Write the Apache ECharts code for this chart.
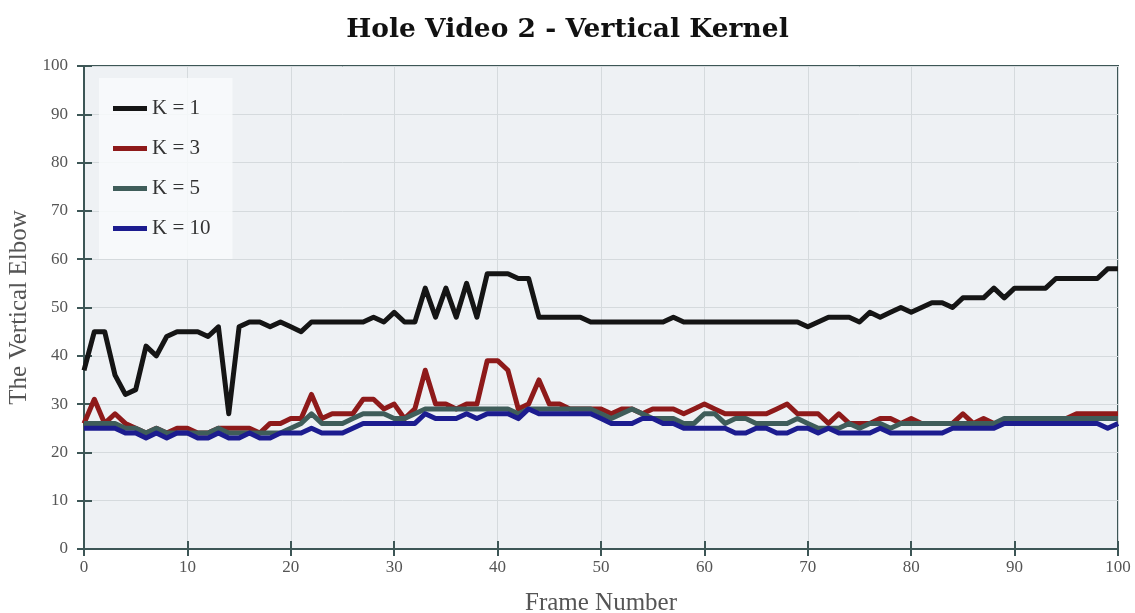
<!DOCTYPE html>
<html><head><meta charset="utf-8">
<script src="https://cdn.jsdelivr.net/npm/echarts@6/dist/echarts.min.js"></script>
<style>html,body{margin:0;padding:0;background:#fff}#c{width:1135px;height:613px}</style>
</head><body><div id="c"></div>
<script>
const frames = Array.from({length:101},(_,i)=>i);
const k1 = [37,45,45,36,32,33,42,40,44,45,
 45,45,44,46,28,46,47,47,46,47,
 46,45,47,47,47,47,47,47,48,47,
 49,47,47,54,48,54,48,55,48,57,
 57,57,56,56,48,48,48,48,48,47,
 47,47,47,47,47,47,47,48,47,47,
 47,47,47,47,47,47,47,47,47,47,
 46,47,48,48,48,47,49,48,49,50,
 49,50,51,51,50,52,52,52,54,52,
 54,54,54,54,56,56,56,56,56,58,58];
const k3 = [26,31,26,28,26,25,24,25,24,25,
 25,24,24,25,25,25,25,24,26,26,
 27,27,32,27,28,28,28,31,31,29,
 30,27,29,37,30,30,29,30,30,39,
 39,37,29,30,35,30,30,29,29,29,
 29,28,29,29,28,29,29,29,28,29,
 30,29,28,28,28,28,28,29,30,28,
 28,28,26,28,26,26,26,27,27,26,
 27,26,26,26,26,28,26,27,26,26,
 27,27,27,27,27,27,28,28,28,28,28];
const k5 = [26,26,26,26,25,25,24,25,24,24,
 24,24,24,25,24,24,24,24,24,24,
 25,26,28,26,26,26,27,28,28,28,
 27,27,28,29,29,29,29,29,29,29,
 29,29,28,29,29,29,29,29,29,29,
 28,27,28,29,28,27,27,27,26,26,
 28,28,26,27,27,26,26,26,26,27,
 26,25,25,25,26,25,26,26,25,26,
 26,26,26,26,26,26,26,26,26,27,
 27,27,27,27,27,27,27,27,27,27,27];
const k10 = [25,25,25,25,24,24,23,24,23,24,
 24,23,23,24,23,23,24,23,23,24,
 24,24,25,24,24,24,25,26,26,26,
 26,26,26,28,27,27,27,28,27,28,
 28,28,27,29,28,28,28,28,28,28,
 27,26,26,26,27,27,26,26,25,25,
 25,25,25,24,24,25,25,24,24,25,
 25,24,25,24,24,24,24,25,24,24,
 24,24,24,24,25,25,25,25,25,26,
 26,26,26,26,26,26,26,26,26,25,26];
const seriesNames = ['K = 1','K = 3','K = 5','K = 10'];
const seriesColors = ['#151515','#8e1a1a','#3f5d5a','#1c1c8f'];
const seriesData = [k1,k3,k5,k10];
const xTicks = [0,10,20,30,40,50,60,70,80,90,100];

const serif = '"Liberation Serif", "DejaVu Serif", serif';
const axisColor = '#3d5656';
const chart = echarts.init(document.getElementById('c'));
const baseX = {type:'value', min:0, max:100, interval:10};
const baseY = {type:'value', min:0, max:100, interval:10};
chart.setOption({
  animation:false,
  backgroundColor:'#ffffff',
  title:{text:'Hole Video 2 - Vertical Kernel', left:'center', top:12,
    textStyle:{fontFamily:'"DejaVu Serif", serif', fontWeight:'bold', fontSize:26.5, color:'#111'}},
  grid:{left:84, right:17, top:66, bottom:64, containLabel:false, outerBoundsMode:'none',
    show:true, backgroundColor:'#eef1f4', borderColor:axisColor, borderWidth:2},
  legend:{orient:'vertical', left:99, top:78, padding:[20,22,20,14], itemGap:19,
    backgroundColor:'rgba(248,250,251,0.85)', icon:'rect', itemWidth:34, itemHeight:5,
    textStyle:{fontFamily:serif, fontSize:21, color:'#333', lineHeight:21},
    data:seriesNames},
  xAxis:[
    Object.assign({}, baseX, {name:'Frame Number', nameLocation:'middle', nameGap:42,
      nameTextStyle:{fontFamily:serif, fontSize:25, color:'#555'},
      axisLine:{show:true, lineStyle:{color:axisColor, width:2}},
      axisTick:{show:true, length:7, lineStyle:{color:axisColor, width:2}},
      axisLabel:{fontFamily:serif, fontSize:17, color:'#555', margin:10,
        formatter:v=>xTicks.includes(v)?String(v):''},
      splitLine:{show:true, lineStyle:{color:'#d5dadd', width:1}}}),
    Object.assign({}, baseX, {position:'bottom', axisLine:{show:false},
      axisTick:{show:true, inside:true, length:8, lineStyle:{color:axisColor, width:2}},
      axisLabel:{show:false}, splitLine:{show:false}})
  ],
  yAxis:[
    Object.assign({}, baseY, {name:'The Vertical Elbow', nameLocation:'middle', nameGap:49,
      nameTextStyle:{fontFamily:serif, fontSize:25, color:'#555'},
      axisLine:{show:true, lineStyle:{color:axisColor, width:2}},
      axisTick:{show:true, length:7, lineStyle:{color:axisColor, width:2}},
      axisLabel:{fontFamily:serif, fontSize:17, color:'#555', margin:16},
      splitLine:{show:true, lineStyle:{color:'#d5dadd', width:1}}}),
    Object.assign({}, baseY, {position:'left', axisLine:{show:false},
      axisTick:{show:true, inside:true, length:8, lineStyle:{color:axisColor, width:2}},
      axisLabel:{show:false}, splitLine:{show:false}})
  ],
  series: seriesData.map((d,i)=>({
    name:seriesNames[i], type:'line', xAxisIndex:0, yAxisIndex:0,
    data:frames.map((f,j)=>[f,d[j]]), showSymbol:false, symbol:'none',
    lineStyle:{color:seriesColors[i], width:5, join:'round'},
    itemStyle:{color:seriesColors[i]}, z:2+i
  }))
});
</script></body></html>
